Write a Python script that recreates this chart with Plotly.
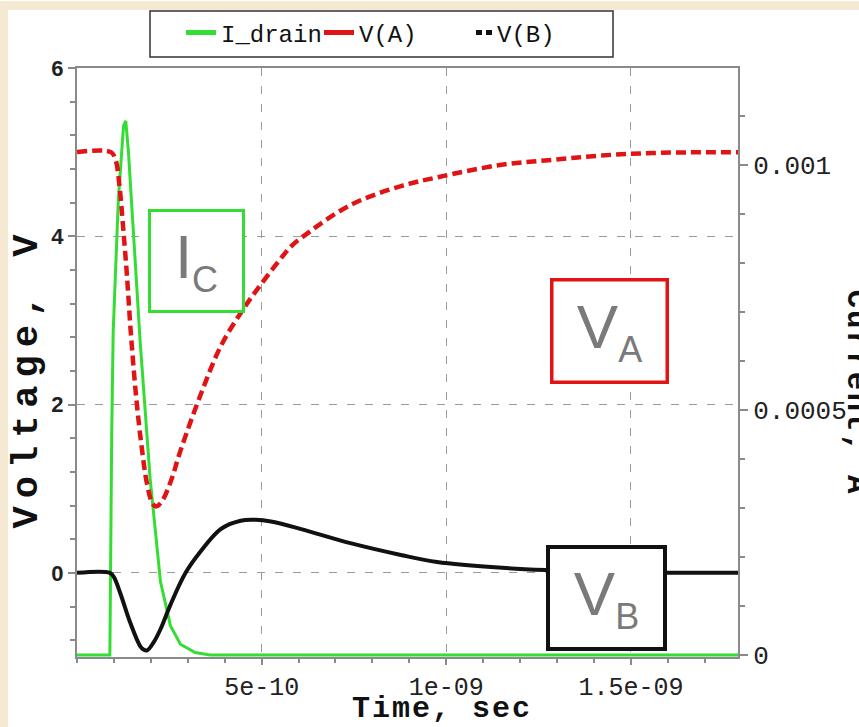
import plotly.graph_objects as go

# ---------------- data (time in seconds) ----------------
t_id = [0, 0.89e-10, 0.94e-10, 0.98e-10, 1.12e-10, 1.26e-10, 1.32e-10, 1.39e-10, 1.53e-10, 1.71e-10,
        1.98e-10, 2.26e-10, 2.53e-10, 2.8e-10, 3.2e-10, 3.6e-10, 1.79e-9]
i_drain = [0, 0, 0.45e-3, 0.66e-3, 0.93e-3, 1.08e-3, 1.09e-3, 1.03e-3, 0.86e-3, 0.64e-3,
           0.36e-3, 0.15e-3, 0.06e-3, 0.022e-3, 0.005e-3, 0, 0]

t_va = [0, 0.92e-10, 1.05e-10, 1.15e-10, 1.25e-10, 1.35e-10, 1.45e-10, 1.6e-10, 1.75e-10,
        1.9e-10, 2.05e-10, 2.15e-10, 2.3e-10, 2.55e-10, 2.8e-10, 3.35e-10, 3.9e-10, 4.45e-10,
        4.9e-10, 5.8e-10, 6.1e-10, 7.4e-10, 8.8e-10, 9.75e-10, 1.15e-9, 1.29e-9, 1.42e-9,
        1.56e-9, 1.79e-9]
v_a = [5, 5, 4.9, 4.6, 4.1, 3.55, 2.9, 2.1, 1.5,
       1.05, 0.82, 0.79, 0.85, 1.1, 1.45, 2.12, 2.7, 3.1,
       3.38, 3.88, 3.99, 4.37, 4.6, 4.7, 4.85, 4.91, 4.96,
       4.99, 5.0]

t_vb = [0, 0.89e-10, 1.0e-10, 1.17e-10, 1.44e-10, 1.71e-10, 1.8e-10, 1.9e-10, 2.07e-10,
        2.26e-10, 2.53e-10, 2.94e-10, 3.34e-10, 3.89e-10, 4.43e-10, 4.84e-10, 5.25e-10,
        6.07e-10, 7.43e-10, 8.8e-10, 9.75e-10, 1.152e-9, 1.288e-9, 1.424e-9, 1.6e-9, 1.79e-9]
v_b = [0, 0, -0.05, -0.24, -0.59, -0.87, -0.91, -0.92, -0.83,
       -0.67, -0.38, 0.0, 0.25, 0.52, 0.62, 0.63, 0.61,
       0.52, 0.35, 0.21, 0.13, 0.06, 0.03, 0.01, 0.0, 0.0]

x_tickvals = [5e-10, 1e-9, 1.5e-9]
x_ticktext = ["5e-10", "1e-09", "1.5e-09"]
v_tickvals = [0, 2, 4, 6]
i_tickvals = [0, 0.0005, 0.001]
i_ticktext = ["0", "0.0005", "0.001"]
legend_names = ["I_drain", "V(A)", "V(B)"]

# ---------------- style ----------------
MONO = "Liberation Mono, Courier New, monospace"
SANS = "Liberation Sans, Arial, sans-serif"
GREEN = "#33dd33"
RED = "#e01414"
BLACK = "#111111"
AXC = "#8a8a8a"
GRID = "#9a9a9a"
BEIGE = "#f6e9d3"

W, H = 859, 727
L, R, T, B = 77, 121, 67, 70
PW, PH = W - L - R, H - T - B


def px(x):
    return (x - L) / PW


def py(y):
    return (H - B - y) / PH


fig = go.Figure()

fig.add_trace(go.Scatter(x=t_id, y=i_drain, mode="lines", yaxis="y",
                         line=dict(color=GREEN, width=3), showlegend=False))
fig.add_trace(go.Scatter(x=t_va, y=v_a, mode="lines", yaxis="y2",
                         line=dict(color=RED, width=4.5, dash="10px,5px", shape="spline", smoothing=1),
                         showlegend=False))
fig.add_trace(go.Scatter(x=t_vb, y=v_b, mode="lines", yaxis="y2",
                         line=dict(color=BLACK, width=4, shape="spline", smoothing=1),
                         showlegend=False))

# legend-only entries (styled as in the reference legend)
fig.add_trace(go.Scatter(x=[None], y=[None], mode="lines", name=legend_names[0],
                         line=dict(color=GREEN, width=5)))
fig.add_trace(go.Scatter(x=[None], y=[None], mode="lines", name=legend_names[1],
                         line=dict(color=RED, width=5)))
fig.add_trace(go.Scatter(x=[None], y=[None], mode="lines", name=legend_names[2],
                         line=dict(color=BLACK, width=5, dash="0px,14px,6px,4px,6px,100px")))

fig.update_layout(
    width=W, height=H,
    margin=dict(l=L, r=R, t=T, b=B, pad=0),
    paper_bgcolor="white", plot_bgcolor="white",
    xaxis=dict(range=[0, 1.79e-9], showline=True, linecolor=AXC, linewidth=2, mirror=True,
               ticks="outside", ticklen=6, tickcolor=AXC, tickwidth=1.5,
               tickmode="array", tickvals=x_tickvals, ticktext=x_ticktext,
               tickfont=dict(family=MONO, size=25, color="#222"),
               showgrid=True, gridcolor=GRID, gridwidth=1, griddash="8px,10px",
               zeroline=False, layer="below traces",
               minor=dict(tickmode="linear", tick0=0, dtick=1e-10, ticks="outside",
                          ticklen=4, tickcolor=AXC, showgrid=False)),
    yaxis=dict(range=[-0.000004, 0.001198], side="right", showline=True, linecolor=AXC,
               linewidth=2, ticks="outside", ticklen=8, tickcolor=AXC, tickwidth=1.5,
               tickmode="array", tickvals=i_tickvals, ticktext=i_ticktext,
               tickfont=dict(family=MONO, size=26, color="#222"),
               showgrid=False, zeroline=False, layer="below traces",
               minor=dict(tickmode="linear", tick0=0, dtick=0.0001, ticks="outside",
                          ticklen=5, tickcolor=AXC, showgrid=False)),
    yaxis2=dict(range=[-1, 6], overlaying="y", side="left", anchor="x", showline=True,
                linecolor=AXC, linewidth=2, ticks="outside", ticklen=7, tickcolor=AXC,
                tickwidth=1.5, tickmode="array", tickvals=v_tickvals,
                tickfont=dict(family=SANS, size=22, color="#222", weight="bold"),
                showgrid=True, gridcolor=GRID, gridwidth=1, griddash="8px,10px",
                zeroline=False,
                minor=dict(tickmode="linear", tick0=0, dtick=0.4, ticks="outside",
                           ticklen=5, tickcolor=AXC, showgrid=False)),
    legend=dict(orientation="h", x=px(181), xanchor="left", y=py(33), yanchor="middle",
                bgcolor="rgba(0,0,0,0)", borderwidth=0, entrywidth=93, entrywidthmode="pixels",
                font=dict(family=MONO, size=24, color="#111")),
)

# background strips and legend frame
fig.add_shape(type="rect", xref="paper", yref="paper", x0=px(0), x1=px(W), y0=py(9), y1=py(0),
              fillcolor=BEIGE, line_width=0, layer="below")
fig.add_shape(type="rect", xref="paper", yref="paper", x0=px(0), x1=px(8), y0=py(H), y1=py(0),
              fillcolor=BEIGE, line_width=0, layer="below")
fig.add_shape(type="rect", xref="paper", yref="paper", x0=px(150), x1=px(613), y0=py(56), y1=py(10),
              fillcolor="white", line=dict(color="#333", width=1.5), layer="above")

# labelled boxes
box_font = dict(family=SANS, size=62, color="#7a7a7a")
box_common = dict(xref="paper", yref="paper", showarrow=False, xanchor="center", yanchor="middle",
                  borderpad=0, bgcolor="white", font=box_font, align="center", valign="middle")
fig.add_annotation(x=px(196), y=py(260.5), text="I<sub><span style='font-size:36px'>C</span></sub>",
                   width=91, height=98, bordercolor=GREEN, borderwidth=3, **box_common)
fig.add_annotation(x=px(609), y=py(330.5), text="V<sub><span style='font-size:36px'>A</span></sub>",
                   width=112, height=99, bordercolor=RED, borderwidth=3.5, **box_common)
fig.add_annotation(x=px(606.5), y=py(598), text="V<sub><span style='font-size:36px'>B</span></sub>",
                   width=113, height=98, bordercolor=BLACK, borderwidth=4, **box_common)

# axis titles
tcommon = dict(xref="paper", yref="paper", showarrow=False, xanchor="center", yanchor="middle")
fig.add_annotation(x=px(27), y=py(377), textangle=-90,
                   text="<span style='letter-spacing:8px'>Voltage, V</span>",
                   font=dict(family=MONO, size=37, color="#111", weight="bold"), **tcommon)
fig.add_annotation(x=px(442), y=py(709),
                   text="<span style='letter-spacing:2px'>Time, sec</span>",
                   font=dict(family=MONO, size=30, color="#111", weight="bold"), **tcommon)
fig.add_annotation(x=px(857), y=py(392), textangle=90,
                   text="<span style='letter-spacing:2px'>Current, A</span>",
                   font=dict(family=MONO, size=31, color="#111", weight="bold"), **tcommon)

fig.write_html("out.html")
